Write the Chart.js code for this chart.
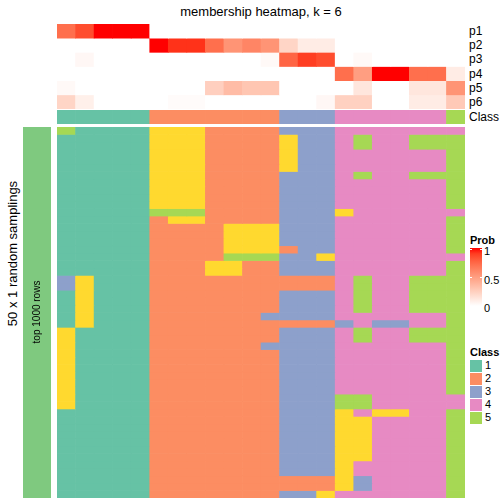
<!DOCTYPE html>
<html>
<head>
<meta charset="utf-8">
<script src="https://cdn.jsdelivr.net/npm/chart.js@4.4.1/dist/chart.umd.min.js"></script>
<style>
  body { margin: 0; background: #fff; font-family: "Liberation Sans", Arial, sans-serif; }
  #wrap { position: relative; width: 504px; height: 504px; overflow: hidden; }
  .box { position: absolute; }
  .lbl { position: absolute; font-size: 12px; color: #000; white-space: nowrap; line-height: 1; }
  .bold { font-weight: bold; }
</style>
</head>
<body>
<div id="wrap">
  <div class="lbl" id="title" style="left:0;width:522px;top:5px;text-align:center;font-size:13px">membership heatmap, k = 6</div>

  <div class="box" style="left:57px;top:24px;width:408px;height:85px"><canvas id="probChart"></canvas></div>
  <div class="box" style="left:57px;top:110px;width:408px;height:14px"><canvas id="classChart"></canvas></div>
  <div class="box" style="left:57px;top:127px;width:408px;height:371px"><canvas id="mainChart"></canvas></div>
  <div class="box" style="left:23px;top:127px;width:28px;height:371px"><canvas id="sampleChart"></canvas></div>

  <div id="rowLabels"></div>
  <div class="lbl" style="left:-68px;top:247px;width:160px;text-align:center;font-size:13px;transform:rotate(-90deg)">50 x 1 random samplings</div>
  <div class="lbl" style="left:-13px;top:307px;width:100px;text-align:center;font-size:10px;transform:rotate(-90deg)">top 1000 rows</div>

  <div id="legend"></div>
</div>

<script>
// columns of the consensus partition (22 samples)
const columnClass = [1,1,1,1,1, 2,2,2,2,2,2,2, 3,3,3, 4,4,4,4,4,4, 5];

// membership probabilities, one array per class
const p1 = [0.72,0.85,1,1,1, 0,0,0,0,0,0,0, 0,0,0, 0,0,0,0,0,0, 0];
const p2 = [0,0,0,0,0, 1,0.93,0.93,0.72,0.55,0.62,0.55, 0.22,0.1,0.1, 0,0,0,0,0,0, 0];
const p3 = [0,0.04,0,0,0, 0,0,0,0,0,0,0.03, 0.76,0.9,0.85, 0,0.03,0,0,0,0, 0];
const p4 = [0,0,0,0,0, 0,0,0,0,0,0,0, 0,0,0, 0.72,0.5,1,1,0.72,0.72, 0.1];
const p5 = [0.03,0,0,0,0, 0,0,0,0.25,0.35,0.3,0.3, 0,0,0, 0,0.13,0,0,0.13,0.13, 0.55];
const p6 = [0.22,0.08,0,0,0, 0,0.02,0.02,0,0,0,0, 0,0,0.04, 0.24,0.24,0,0,0.1,0.1, 0.28];
const probRowNames = ["p1", "p2", "p3", "p4", "p5", "p6"];

// class of each column in each of the 50 random samplings (6 = not assigned)
const samplings = [
  [5,1,1,1,1, 6,6,6,2,2,2,2, 3,3,3, 4,4,4,4,4,4, 4],
  [1,1,1,1,1, 6,6,6,2,2,2,2, 6,3,3, 4,5,4,4,5,5, 5],
  [1,1,1,1,1, 6,6,6,2,2,2,2, 6,3,3, 4,5,4,4,5,5, 5],
  [1,1,1,1,1, 6,6,6,2,2,2,2, 6,3,3, 4,4,4,4,4,4, 5],
  [1,1,1,1,1, 6,6,6,2,2,2,2, 6,3,3, 4,4,4,4,4,4, 5],
  [1,1,1,1,1, 6,6,6,2,2,2,2, 6,3,3, 4,4,4,4,4,4, 5],
  [1,1,1,1,1, 6,6,6,2,2,2,2, 3,3,3, 4,5,4,4,5,5, 5],
  [1,1,1,1,1, 6,6,6,2,2,2,2, 3,3,3, 4,4,4,4,4,4, 5],
  [1,1,1,1,1, 6,6,6,2,2,2,2, 3,3,3, 4,4,4,4,4,4, 5],
  [1,1,1,1,1, 6,6,6,2,2,2,2, 3,3,3, 4,4,4,4,4,4, 5],
  [1,1,1,1,1, 6,6,6,2,2,2,2, 3,3,3, 4,4,4,4,4,4, 5],
  [1,1,1,1,1, 5,5,5,2,2,2,2, 3,3,3, 6,4,4,4,4,4, 4],
  [1,1,1,1,1, 2,6,6,2,2,2,2, 3,3,3, 4,4,4,4,4,4, 5],
  [1,1,1,1,1, 2,2,2,2,6,6,6, 3,3,3, 4,4,4,4,4,4, 5],
  [1,1,1,1,1, 2,2,2,2,6,6,6, 3,3,3, 4,4,4,4,4,4, 5],
  [1,1,1,1,1, 2,2,2,2,6,6,6, 3,3,3, 4,4,4,4,4,4, 5],
  [1,1,1,1,1, 2,2,2,2,6,6,6, 2,3,3, 4,4,4,4,4,4, 5],
  [1,1,1,1,1, 2,2,2,2,5,5,5, 3,3,6, 4,4,4,4,4,4, 4],
  [1,1,1,1,1, 2,2,2,6,6,2,2, 3,3,3, 4,4,4,4,4,4, 5],
  [1,1,1,1,1, 2,2,2,6,6,2,2, 3,3,3, 4,4,4,4,4,4, 5],
  [3,6,1,1,1, 2,2,2,2,2,2,2, 2,2,2, 4,5,4,4,5,5, 5],
  [3,6,1,1,1, 2,2,2,2,2,2,2, 2,2,2, 4,5,4,4,5,5, 5],
  [1,6,1,1,1, 2,2,2,2,2,2,2, 3,3,3, 4,5,4,4,5,5, 5],
  [1,6,1,1,1, 2,2,2,2,2,2,2, 3,3,3, 4,5,4,4,5,5, 5],
  [1,6,1,1,1, 2,2,2,2,2,2,2, 3,3,3, 4,5,4,4,5,5, 5],
  [1,6,1,1,1, 2,2,2,2,2,2,3, 3,3,3, 4,4,4,4,4,4, 5],
  [1,6,1,1,1, 2,2,2,2,2,2,2, 2,2,2, 3,4,3,3,4,4, 5],
  [6,1,1,1,1, 2,2,2,2,2,2,2, 3,3,3, 4,5,4,4,5,5, 5],
  [6,1,1,1,1, 2,2,2,2,2,2,2, 3,3,3, 4,5,4,4,5,5, 5],
  [6,1,1,1,1, 2,2,2,2,2,2,3, 3,3,3, 4,4,4,4,4,4, 5],
  [6,1,1,1,1, 2,2,2,2,2,2,2, 3,3,3, 4,4,4,4,4,4, 5],
  [6,1,1,1,1, 2,2,2,2,2,2,2, 3,3,3, 4,4,4,4,4,4, 5],
  [6,1,1,1,1, 2,2,2,2,2,2,2, 3,3,3, 4,4,4,4,4,4, 5],
  [6,1,1,1,1, 2,2,2,2,2,2,2, 3,3,3, 4,4,4,4,4,4, 5],
  [6,1,1,1,1, 2,2,2,2,2,2,2, 3,3,3, 4,4,4,4,4,4, 5],
  [6,1,1,1,1, 2,2,2,2,2,2,2, 3,3,3, 4,4,4,4,4,4, 5],
  [6,1,1,1,1, 2,2,2,2,2,2,2, 3,3,3, 5,5,4,4,4,4, 4],
  [6,1,1,1,1, 2,2,2,2,2,2,2, 3,3,3, 5,5,4,4,4,4, 4],
  [1,1,1,1,1, 2,2,2,2,2,2,2, 3,3,3, 6,4,6,6,4,4, 5],
  [1,1,1,1,1, 2,2,2,2,2,2,2, 3,3,3, 6,6,4,4,4,4, 5],
  [1,1,1,1,1, 2,2,2,2,2,2,2, 3,3,3, 6,6,4,4,4,4, 5],
  [1,1,1,1,1, 2,2,2,2,2,2,2, 3,3,3, 6,6,4,4,4,4, 5],
  [1,1,1,1,1, 2,2,2,2,2,2,2, 3,3,3, 6,6,4,4,4,4, 5],
  [1,1,1,1,1, 2,2,2,2,2,2,2, 3,3,3, 6,6,4,4,4,4, 5],
  [1,1,1,1,1, 2,2,2,2,2,2,2, 3,3,3, 6,6,4,4,4,4, 5],
  [1,1,1,1,1, 2,2,2,2,2,2,2, 3,3,3, 6,4,4,4,4,4, 5],
  [1,1,1,1,1, 2,2,2,2,2,2,2, 3,3,3, 6,4,4,4,4,4, 5],
  [1,1,1,1,1, 2,2,2,2,2,2,2, 2,2,2, 6,3,4,4,4,4, 5],
  [1,1,1,1,1, 2,2,2,2,2,2,2, 2,2,2, 6,3,4,4,4,4, 5],
  [1,1,1,1,1, 2,2,2,2,2,2,2, 3,3,6, 4,4,4,4,4,4, 5]
];

const classLabels = ["1", "2", "3", "4", "5"];
const classColors = { 1: "#66C2A5", 2: "#FC8D62", 3: "#8DA0CB", 4: "#E78AC3", 5: "#A6D854", 6: "#FFD92F" };
const probTicks = [1, 0.5, 0];

// white -> red in LAB space, like colorRamp2
function toLin(c) { c /= 255; return c <= 0.04045 ? c / 12.92 : Math.pow((c + 0.055) / 1.055, 2.4); }
function fromLin(v) {
  v = v <= 0.0031308 ? 12.92 * v : 1.055 * Math.pow(v, 1 / 2.4) - 0.055;
  return Math.round(Math.max(0, Math.min(1, v)) * 255);
}
function rgb2lab(rgb) {
  var r = toLin(rgb[0]), g = toLin(rgb[1]), b = toLin(rgb[2]);
  var x = (0.4124 * r + 0.3576 * g + 0.1805 * b) / 0.95047;
  var y = 0.2126 * r + 0.7152 * g + 0.0722 * b;
  var z = (0.0193 * r + 0.1192 * g + 0.9505 * b) / 1.08883;
  var f = function (t) { return t > 0.008856 ? Math.cbrt(t) : 7.787 * t + 16 / 116; };
  return [116 * f(y) - 16, 500 * (f(x) - f(y)), 200 * (f(y) - f(z))];
}
function lab2rgb(lab) {
  var fy = (lab[0] + 16) / 116, fx = fy + lab[1] / 500, fz = fy - lab[2] / 200;
  var inv = function (t) { return t * t * t > 0.008856 ? t * t * t : (t - 16 / 116) / 7.787; };
  var x = inv(fx) * 0.95047, y = inv(fy), z = inv(fz) * 1.08883;
  var r = 3.2406 * x - 1.5372 * y - 0.4986 * z;
  var g = -0.9689 * x + 1.8758 * y + 0.0415 * z;
  var b = 0.0557 * x - 0.2040 * y + 1.0570 * z;
  return "rgb(" + fromLin(r) + "," + fromLin(g) + "," + fromLin(b) + ")";
}
var labWhite = rgb2lab([255, 255, 255]), labRed = rgb2lab([255, 0, 0]);
function probColor(v) {
  return lab2rgb(labWhite.map(function (w, i) { return w + (labRed[i] - w) * v; }));
}

// one stacked bar per column, one dataset per heatmap row
function heatmap(id, rows, colorFn) {
  var labels = rows[0].map(function (_, i) { return "c" + (i + 1); });
  new Chart(document.getElementById(id), {
    type: "bar",
    data: {
      labels: labels,
      datasets: rows.map(function (row) {
        return {
          data: row.map(function () { return 1; }),
          backgroundColor: row.map(colorFn),
          borderWidth: 0,
          barPercentage: 1,
          categoryPercentage: 1,
          stack: "s",
        };
      }),
    },
    options: {
      responsive: true,
      maintainAspectRatio: false,
      animation: false,
      events: [],
      layout: { padding: 0 },
      plugins: { legend: { display: false }, tooltip: { enabled: false } },
      scales: {
        x: { display: false, stacked: true, grid: { display: false } },
        y: { display: false, stacked: true, reverse: true, min: 0, max: rows.length },
      },
    },
  });
}

heatmap("probChart", [p1, p2, p3, p4, p5, p6], probColor);
heatmap("classChart", [columnClass], function (c) { return classColors[c]; });
heatmap("mainChart", samplings, function (c) { return classColors[c]; });
heatmap("sampleChart", [[1]], function () { return "#7FC97F"; });

// row labels of the top annotation
var html = "";
probRowNames.forEach(function (name, i) {
  html += '<div class="lbl" style="left:469px;top:' + (25 + i * 14.2) + 'px">' + name + "</div>";
});
html += '<div class="lbl" style="left:469px;top:111px">Class</div>';
document.getElementById("rowLabels").innerHTML = html;

// legends
var stops = [];
for (var i = 0; i <= 10; i++) stops.push(probColor(1 - i / 10) + " " + (i * 10) + "%");
var lg = "";
lg += '<div class="lbl bold" style="left:470px;top:235px;font-size:11px">Prob</div>';
lg += '<div class="box" style="left:470px;top:248px;width:12px;height:58px;background:linear-gradient(to bottom,' + stops.join(",") + ')"></div>';
probTicks.forEach(function (t) {
  var y = 249 + (1 - t) * 57;
  lg += '<div class="box" style="left:470px;top:' + (y - 0.5) + 'px;width:2px;height:1px;background:#fff"></div>';
  lg += '<div class="box" style="left:480px;top:' + (y - 0.5) + 'px;width:2px;height:1px;background:#fff"></div>';
  lg += '<div class="lbl" style="left:484px;top:' + (y - 3) + 'px;font-size:11px">' + t + "</div>";
});
lg += '<div class="lbl bold" style="left:470px;top:347px;font-size:11px">Class</div>';
classLabels.forEach(function (c, i) {
  var y = 360 + i * 13;
  lg += '<div class="box" style="left:470px;top:' + y + 'px;width:12px;height:12px;background:' + classColors[i + 1] + '"></div>';
  lg += '<div class="lbl" style="left:485px;top:' + y + 'px;font-size:11px">' + c + "</div>";
});
document.getElementById("legend").innerHTML = lg;
</script>
</body>
</html>
